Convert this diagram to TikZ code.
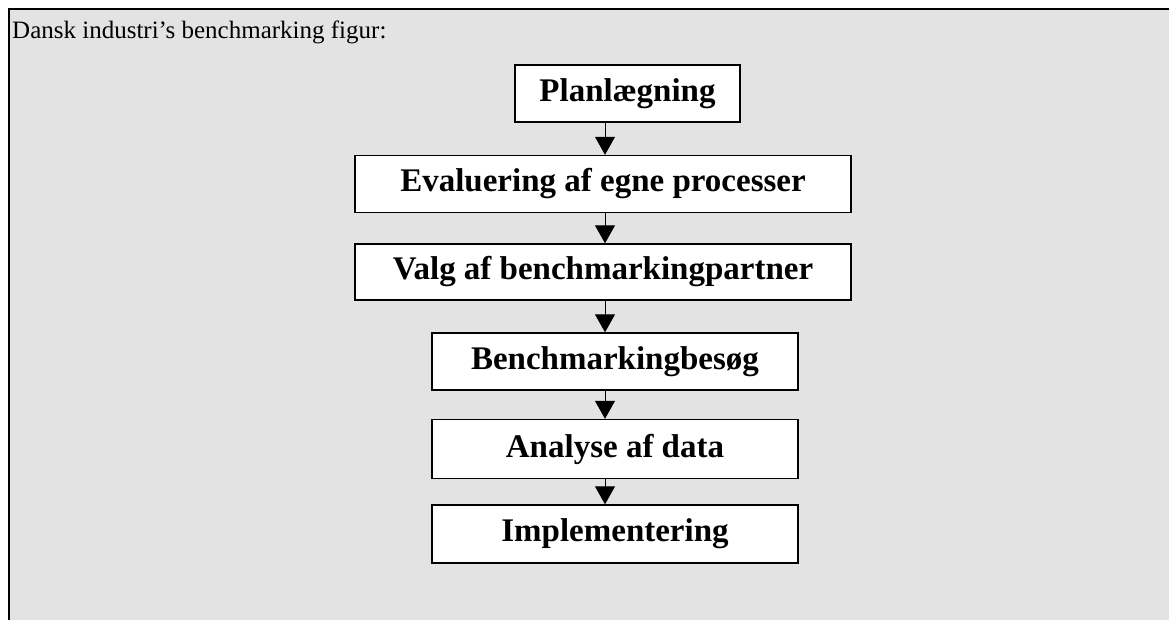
\documentclass[tikz,border=0pt]{standalone}
\usepackage{fontspec}
\setmainfont{Liberation Serif}
\usetikzlibrary{arrows.meta}
\definecolor{bg}{HTML}{E3E3E3}
\tikzset{
  stepbox/.style={draw=black, line width=1.4pt, fill=white, inner sep=0pt,
    font=\fontsize{33}{37}\selectfont\bfseries, text=black},
  arr/.style={line width=1pt, -{Triangle[width=20pt,length=18pt]}}
}
\begin{document}
\begin{tikzpicture}[x=1pt,y=-1pt]
\useasboundingbox (0,0) rectangle (1169,620);
\fill[white] (0,0) rectangle (1169,620);
\fill[bg] (9,9) rectangle (1169,620);
\draw[line width=2pt] (9,620) -- (9,9) -- (1169,9);
\node[anchor=base west, font=\fontsize{25}{29}\selectfont, inner sep=0pt] (title) at (12,39) {Dansk industri’s benchmarking figur:};
\node[stepbox, minimum width=225pt, minimum height=57pt] (b1) at (627.5,93.5) {Planlægning};
\node[stepbox, minimum width=496pt, minimum height=57pt] (b2) at (603,184) {Evaluering af egne processer};
\node[stepbox, minimum width=496pt, minimum height=56pt] (b3) at (603,272) {Valg af benchmarkingpartner};
\node[stepbox, minimum width=366pt, minimum height=57pt] (b4) at (615,361.5) {Benchmarkingbesøg};
\node[stepbox, minimum width=366pt, minimum height=59pt] (b5) at (615,449) {Analyse af data};
\node[stepbox, minimum width=366pt, minimum height=58pt] (b6) at (615,534) {Implementering};
\coordinate (ax) at (605,0);
\draw[arr] (b1.south -| ax) -- (b2.north -| ax);
\draw[arr] (b2.south -| ax) -- (b3.north -| ax);
\draw[arr] (b3.south -| ax) -- (b4.north -| ax);
\draw[arr] (b4.south -| ax) -- (b5.north -| ax);
\draw[arr] (b5.south -| ax) -- (b6.north -| ax);
\end{tikzpicture}
\end{document}
